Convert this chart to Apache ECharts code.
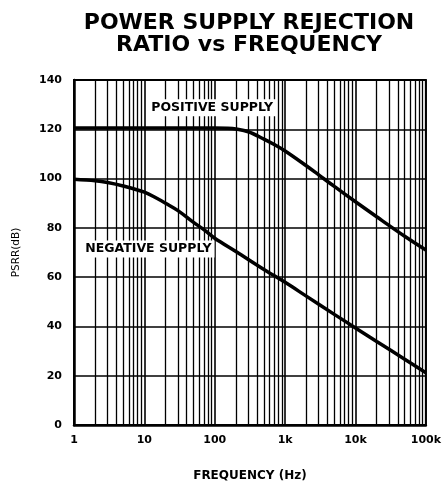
<!DOCTYPE html>
<html>
<head>
<meta charset="UTF-8">
<title>PSRR vs Frequency</title>
<script src="https://cdn.jsdelivr.net/npm/echarts@6/dist/echarts.min.js"></script>
<style>
  html, body { margin: 0; padding: 0; background: #fff; }
</style>
</head>
<body>
<div id="main" style="width: 444px;height:487px;"></div>
<script type="text/javascript">
// values
var posFreq = [1, 10, 100, 150, 200, 300, 500, 700, 1000, 2000, 3000, 5000, 10000, 20000, 50000, 100000];
var posPsrr = [120.5, 120.5, 120.5, 120.4, 120.1, 119, 116, 113.8, 111.2, 105.2, 101.5, 96.8, 90.6, 84.5, 76.6, 71];

var negFreq = [1, 2, 3, 5, 10, 15, 20, 30, 50, 70, 100, 200, 500, 1000, 2000, 5000, 10000, 20000, 50000, 100000];
var negPsrr = [99.7, 99.1, 98.4, 97, 94.5, 92, 90, 87, 82.2, 79.3, 75.8, 70.4, 63.1, 57.9, 52.3, 44.9, 39.4, 33.9, 26.7, 21.2];

var xTickLabels = {1: '1', 10: '10', 100: '100', 1000: '1k', 10000: '10k', 100000: '100k'};
var seriesNames = ['POSITIVE SUPPLY', 'NEGATIVE SUPPLY'];
// where the curve captions sit: [Hz, dB]
var labelAt = [[92, 128.7], [11.4, 71.4]];

function pairs(xs, ys) {
    return xs.map(function (x, i) { return [x, ys[i]]; });
}

// log grid lines at 2..9 of each decade
var minorLines = [];
for (var d = 1; d < 100000; d *= 10) {
    for (var m = 2; m <= 9; m++) {
        minorLines.push({ xAxis: m * d });
    }
}

var font = 'DejaVu Sans, Verdana, sans-serif';
var myChart = echarts.init(document.getElementById('main'));

function caption(text, at) {
    return {
        symbol: 'rect',
        symbolSize: 0,
        z: 10,
        label: {
            show: true, position: 'inside', formatter: text,
            fontFamily: font, fontSize: 12.5, fontWeight: 'bold', color: '#000',
            backgroundColor: '#fff', padding: [2, 3]
        },
        data: [{ coord: at }]
    };
}

var option = {
    animation: false,
    title: {
        text: 'POWER SUPPLY REJECTION\nRATIO vs FREQUENCY',
        left: 244,
        top: 7,
        textAlign: 'center',
        textStyle: { fontFamily: font, fontSize: 22, fontWeight: 'bold', lineHeight: 22, color: '#000' }
    },
    grid: {
        left: 74, right: 16, top: 80, bottom: 60,
        show: true, borderColor: '#000', borderWidth: 2
    },
    xAxis: {
        type: 'log',
        logBase: 10,
        min: 1,
        max: 100000,
        name: 'FREQUENCY (Hz)',
        nameLocation: 'middle',
        nameGap: 45,
        nameTextStyle: { fontFamily: font, fontSize: 12, fontWeight: 'bold', color: '#000' },
        axisLine: { lineStyle: { color: '#000', width: 2.5 } },
        axisTick: { show: false },
        axisLabel: {
            margin: 10,
            fontFamily: font, fontSize: 11, fontWeight: 'bold', color: '#000',
            formatter: function (v) { return xTickLabels[Math.round(v)] || ''; }
        },
        splitLine: { show: true, lineStyle: { color: '#000', width: 1.6 } }
    },
    yAxis: {
        type: 'value',
        min: 0,
        max: 140,
        interval: 20,
        name: 'PSRR(dB)',
        nameLocation: 'middle',
        nameGap: 52,
        nameTextStyle: { fontFamily: font, fontSize: 10.5, color: '#000' },
        axisLine: { show: true, lineStyle: { color: '#000', width: 2.5 } },
        axisTick: { show: false },
        axisLabel: { margin: 12, fontFamily: font, fontSize: 11, fontWeight: 'bold', color: '#000' },
        splitLine: { show: true, lineStyle: { color: '#000', width: 1.6 } }
    },
    series: [
        {
            name: seriesNames[0],
            type: 'line',
            data: pairs(posFreq, posPsrr),
            smooth: 0.35,
            showSymbol: false,
            z: 5,
            lineStyle: { color: '#000', width: 3.5 },
            markLine: {
                silent: true,
                symbol: ['none', 'none'],
                label: { show: false },
                lineStyle: { color: '#000', width: 1.3, type: 'solid' },
                data: minorLines,
                z: 1
            },
            markPoint: caption(seriesNames[0], labelAt[0])
        },
        {
            name: seriesNames[1],
            type: 'line',
            data: pairs(negFreq, negPsrr),
            smooth: 0.35,
            showSymbol: false,
            z: 5,
            lineStyle: { color: '#000', width: 3.5 },
            markPoint: caption(seriesNames[1], labelAt[1])
        }
    ]
};

myChart.setOption(option);
</script>
</body>
</html>
